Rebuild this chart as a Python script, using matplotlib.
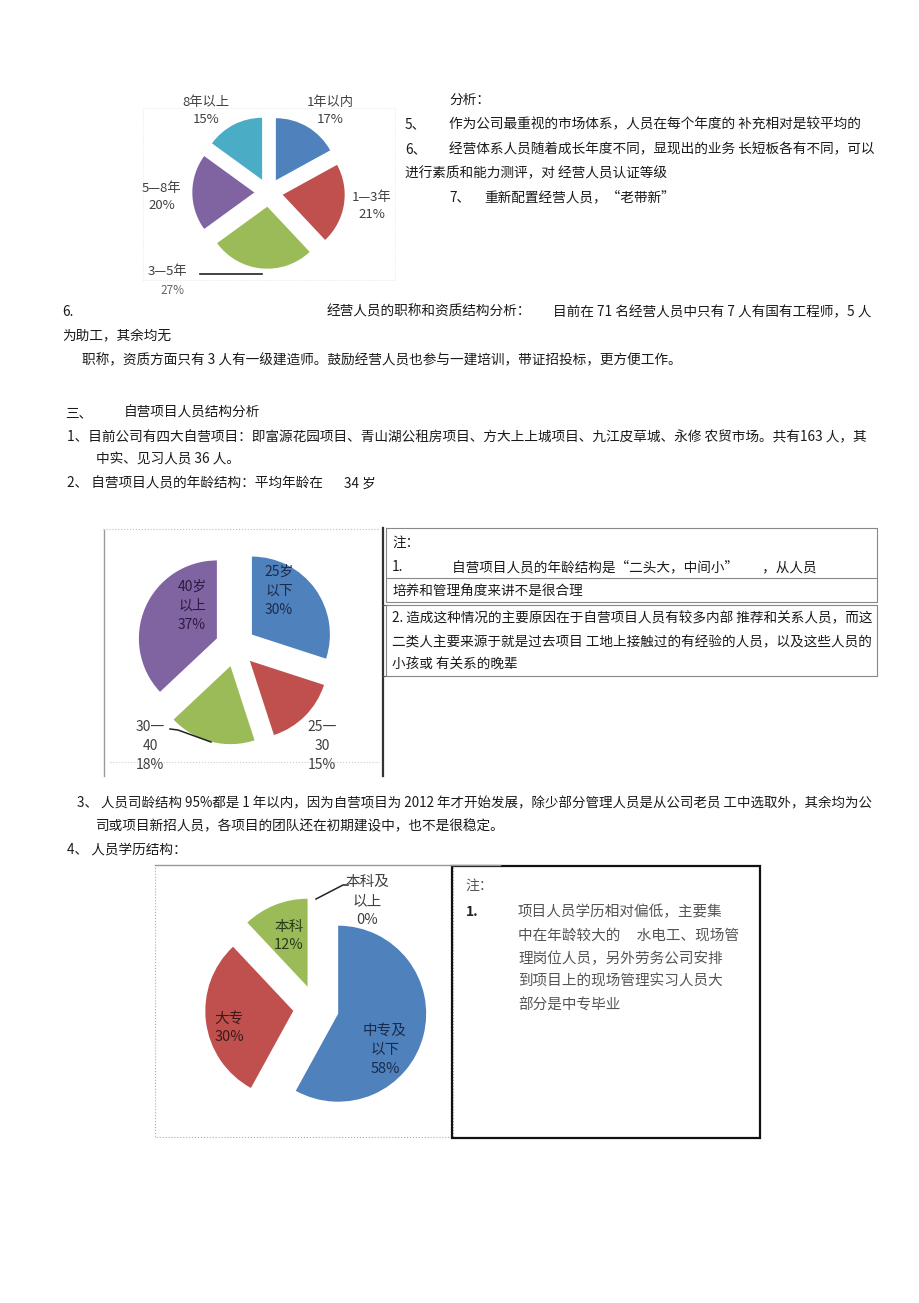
import matplotlib
matplotlib.use("Agg")
import matplotlib.pyplot as plt
from matplotlib.patches import Rectangle

plt.rcParams["font.family"] = ["Noto Sans CJK SC", "DejaVu Sans"]

W, H = 920, 1303
TXT = "#1a1a1a"
LBL = "#404040"
BODY = 9.85

# chart 1: seniority of sales staff
tenure_labels = ["1年以内", "1—3年", "3—5年", "5—8年", "8年以上"]
tenure_values = [17, 21, 27, 20, 15]
tenure_colors = ["#4F81BD", "#C0504D", "#9BBB59", "#8064A2", "#4BACC6"]

# chart 2: age of project staff
age_labels = ["25岁\n以下", "25一\n30", "30一\n40", "40岁\n以上"]
age_values = [30, 15, 18, 37]
age_colors = ["#4F81BD", "#C0504D", "#9BBB59", "#8064A2"]

# chart 3: education of project staff
edu_labels = ["中专及\n以下", "大专", "本科", "本科及\n以上"]
edu_values = [58, 30, 12, 0]
edu_colors = ["#4F81BD", "#C0504D", "#9BBB59", "#8064A2"]

fig = plt.figure(figsize=(W / 100, H / 100), dpi=100)
fig.patch.set_facecolor("white")

page = fig.add_axes([0, 0, 1, 1])
page.set_xlim(0, W)
page.set_ylim(H, 0)
page.axis("off")
page.set_zorder(10)
page.patch.set_alpha(0)


def txt(x, y, s, size=BODY, color=TXT, **kw):
    page.text(x, y, s, fontsize=size, color=color, va="center", ha="left", **kw)


def draw_pie(cx, cy, r, values, colors, explode, half=150):
    a = fig.add_axes([(cx - half) / W, 1 - (cy + half) / H, 2 * half / W, 2 * half / H])
    a.pie(
        values,
        colors=colors,
        startangle=90,
        counterclock=False,
        explode=[explode] * len(values),
        radius=1,
        wedgeprops=dict(linewidth=0),
    )
    a.set_xlim(-half / r, half / r)
    a.set_ylim(-half / r, half / r)
    a.axis("off")
    return a


def plabel(x, y, s, color=LBL, size=9.5):
    page.text(x, y, s, fontsize=size, color=color, ha="center", va="center",
              linespacing=1.45)


# ---------- chart 1 ----------
page.add_patch(Rectangle((143, 108), 252, 172, fill=False, ec="#e2e2e2",
                         lw=0.6, ls=":"))
draw_pie(268.6, 192.5, 62, tenure_values, tenure_colors, 0.23)
plabel(330, 111, f"{tenure_labels[0]}\n{tenure_values[0]}%")
plabel(372, 206, f"{tenure_labels[1]}\n{tenure_values[1]}%")
plabel(162, 197, f"{tenure_labels[3]}\n{tenure_values[3]}%")
plabel(206, 111, f"{tenure_labels[4]}\n{tenure_values[4]}%")
txt(148, 272, tenure_labels[2], size=9.5, color=LBL)
txt(160, 290, f"{tenure_values[2]}%", color="#666666", size=8.5)
page.plot([200, 262], [274, 274], color="#222222", lw=1.2)

# ---------- text block 1 ----------
txt(449, 100, "分析：")
txt(405, 124, "5、")
txt(449, 124, "作为公司最重视的市场体系，人员在每个年度的 补充相对是较平均的")
txt(405, 149, "6、")
txt(449, 149, "经营体系人员随着成长年度不同，显现出的业务 长短板各有不同，可以")
txt(405, 173, "进行素质和能力测评，对 经营人员认证等级")
txt(449, 197, "7、")
txt(484, 197, "重新配置经营人员，“老带新”")

txt(62, 312, "6.")
txt(327, 312, "经营人员的职称和资质结构分析：")
txt(553, 312, "目前在 71 名经营人员中只有 7 人有国有工程师，5 人")
txt(62, 336, "为助工，其余均无")
txt(82, 360, "职称，资质方面只有 3 人有一级建造师。鼓励经营人员也参与一建培训，带证招投标，更方便工作。")

txt(65, 413, "三、")
txt(124, 413, "自营项目人员结构分析")
txt(67, 437, "1、目前公司有四大自营项目：即富源花园项目、青山湖公租房项目、方大上上城项目、九江皮草城、永修 农贸市场。共有163 人，其")
txt(96, 460, "中实、见习人员 36 人。")
txt(67, 484, "2、 自营项目人员的年龄结构：平均年龄在")
txt(344, 484, "34 岁")

# ---------- chart 2 ----------
page.plot([103, 380], [529, 529], color="#bbbbbb", lw=0.8, ls=":")
page.plot([110, 380], [762, 762], color="#cccccc", lw=0.8, ls=":")
page.plot([104, 104], [530, 776], color="#9a9a9a", lw=1.0)
page.plot([383, 383], [528, 776], color="#333333", lw=1.6)
page.plot([383, 388], [605, 605], color="#555555", lw=0.8)
page.plot([383, 388], [676, 676], color="#555555", lw=0.8)
draw_pie(235.5, 646.5, 78, age_values, age_colors, 0.26)
plabel(279, 591, f"{age_labels[0]}\n{age_values[0]}%", color="#1c2a4a", size=10)
plabel(192, 606, f"{age_labels[3]}\n{age_values[3]}%", color="#2a1a40", size=10)
plabel(322, 746, f"{age_labels[1]}\n{age_values[1]}%", size=10)
plabel(150, 746, f"{age_labels[2]}\n{age_values[2]}%", size=10)
page.plot([170, 178, 211], [729, 730, 742], color="#222222", lw=1.1)

# note table for chart 2
tcol = "#888888"
page.plot([386, 877, 877, 386, 386], [528, 528, 602, 602, 528], color=tcol, lw=0.8)
page.plot([386, 877], [578, 578], color=tcol, lw=0.8)
page.plot([386, 877, 877, 386, 386], [605, 605, 676, 676, 605], color=tcol, lw=0.8)
NOTE = 9.8
txt(392, 543, "注：", size=NOTE)
txt(392, 567, "1.", size=NOTE)
txt(452, 567, "自营项目人员的年龄结构是“二头大，中间小”        ，从人员", size=NOTE)
txt(392, 592, "培养和管理角度来讲不是很合理", size=NOTE)
txt(392, 618, "2. 造成这种情况的主要原因在于自营项目人员有较多内部 推荐和关系人员，而这", size=NOTE)
txt(392, 642, "二类人主要来源于就是过去项目 工地上接触过的有经验的人员，以及这些人员的", size=NOTE)
txt(392, 665, "小孩或 有关系的晚辈", size=NOTE)

# ---------- text block 2 ----------
txt(77, 803, "3、 人员司龄结构 95%都是 1 年以内，因为自营项目为 2012 年才开始发展，除少部分管理人员是从公司老员 工中选取外，其余均为公",
    size=9.7)
txt(96, 826, "司或项目新招人员，各项目的团队还在初期建设中，也不是很稳定。")
txt(67, 850, "4、 人员学历结构：")

# ---------- chart 3 ----------
page.plot([155, 500], [865, 865], color="#999999", lw=1.0)
page.add_patch(Rectangle((155, 865), 298, 272, fill=False, ec="#aaaaaa",
                         lw=0.8, ls=":"))
draw_pie(316, 1008, 88, edu_values, edu_colors, 0.26)
plabel(385, 1050, f"{edu_labels[0]}\n{edu_values[0]}%", color="#1c2a4a", size=10.5)
plabel(229, 1028, f"{edu_labels[1]}\n{edu_values[1]}%", color="#3a1a1a", size=10.5)
plabel(289, 936, f"{edu_labels[2]}\n{edu_values[2]}%", color="#2a3a1a", size=10.5)
plabel(367, 901, f"{edu_labels[3]}\n{edu_values[3]}%", size=10.5)
page.plot([316, 343, 348], [899, 885, 885], color="#222222", lw=1.1)

# note box for chart 3
page.add_patch(Rectangle((452, 866), 308, 272, fill=False, ec="#111111", lw=1.6))
gcol = "#555555"
txt(465, 886, "注：", size=10, color=gcol)
txt(466, 912, "1.", size=10, color="#222222", fontweight="bold")
note3 = [
    "项目人员学历相对偏低，主要集",
    "中在年龄较大的     水电工、现场管",
    "理岗位人员，另外劳务公司安排",
    "到项目上的现场管理实习人员大",
    "部分是中专毕业",
]
for i, line in enumerate(note3):
    txt(518, 912 + i * 23.3, line, size=10.5, color=gcol)

fig.savefig("out.png", dpi=100, facecolor="white")
